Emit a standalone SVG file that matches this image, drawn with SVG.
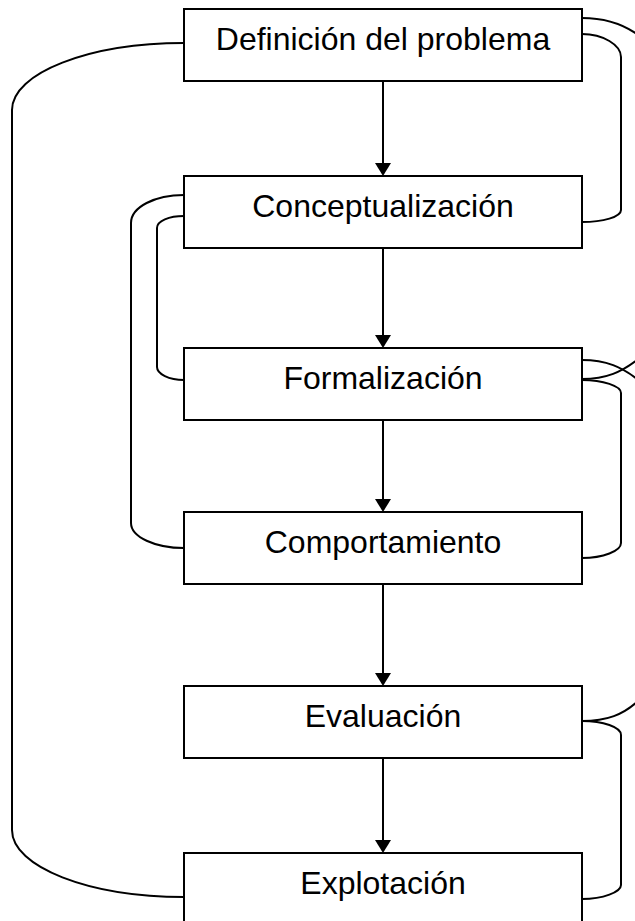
<svg xmlns="http://www.w3.org/2000/svg" width="635" height="921" viewBox="0 0 635 921">
<style>
.box rect{fill:#fff;stroke:#000;stroke-width:2}
.box text{font-family:"Liberation Sans",Arial,sans-serif;font-size:32px;fill:#000;text-anchor:middle}
.conn path{fill:none;stroke:#000;stroke-width:2}
.conn polygon{fill:#000;stroke:none}
</style>
<rect width="635" height="921" fill="#fff"/>
<g id="connectors" class="conn">
  <path d="M383,81 V163"/><polygon points="375,163 391,163 383,176"/>
  <path d="M383,248 V335"/><polygon points="375,335 391,335 383,348"/>
  <path d="M383,420 V499"/><polygon points="375,499 391,499 383,512"/>
  <path d="M383,584 V673"/><polygon points="375,673 391,673 383,686"/>
  <path d="M383,758 V840"/><polygon points="375,840 391,840 383,853"/>
  <path d="M184,43 C89,43 12,73 12,110 V830 C12,867 89,897 184,897"/>
  <path d="M184,195 C155,195 131,207 131,223 V523 C131,537 155,548 184,548"/>
  <path d="M184,216 C169,216 157,221 157,228 V367 C157,374 169,380 184,380"/>
  <path d="M582,34 C603,34 621,45 621,57 V210 C621,217 603,222 582,222"/>
  <path d="M582,380 C603,380 621,386 621,393 V543 C621,551 603,558 582,558"/>
  <path d="M582,721 C603,721 621,727 621,735 V885 C621,892 603,899 582,899"/>
  <path d="M582,18 C605,18 625,24 642,38"/>
  <path d="M582,360 C605,360 622,366 642,383"/>
  <path d="M582,379 C605,379 622,373 642,356"/>
  <path d="M582,721 C605,721 624,716 642,697"/>
</g>
<g id="n1" class="box"><rect x="184" y="9" width="398" height="72"/><text x="383" y="50">Definición del problema</text></g>
<g id="n2" class="box"><rect x="184" y="176" width="398" height="72"/><text x="383" y="217">Conceptualización</text></g>
<g id="n3" class="box"><rect x="184" y="348" width="398" height="72"/><text x="383" y="389">Formalización</text></g>
<g id="n4" class="box"><rect x="184" y="512" width="398" height="72"/><text x="383" y="553">Comportamiento</text></g>
<g id="n5" class="box"><rect x="184" y="686" width="398" height="72"/><text x="383" y="727">Evaluación</text></g>
<g id="n6" class="box"><rect x="184" y="853" width="398" height="72"/><text x="383" y="894">Explotación</text></g>
</svg>
